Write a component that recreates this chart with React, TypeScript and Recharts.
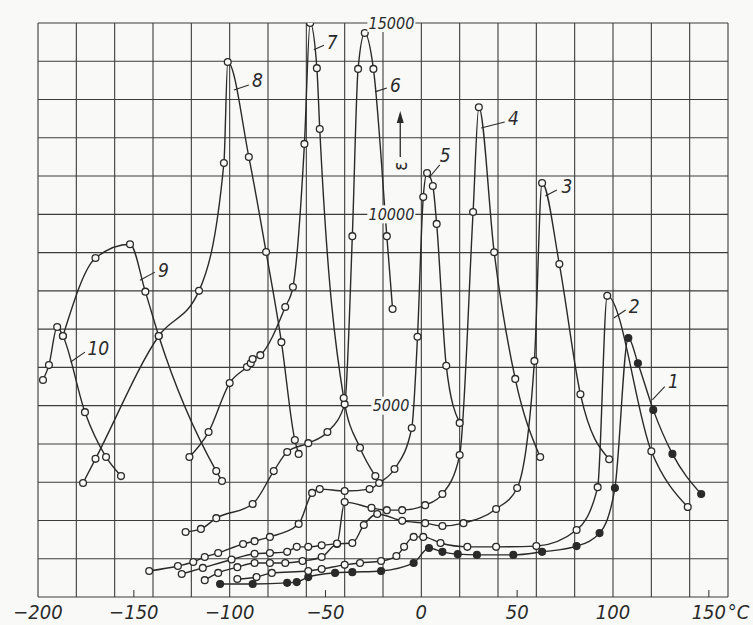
import { LineChart, Line, XAxis, YAxis, ReferenceDot, ReferenceLine } from 'recharts';

// grid: 20 °C per column, 1000 per row
const gridT = [-200, -180, -160, -140, -120, -100, -80, -60, -40, -20, 0, 20, 40, 60, 80, 100, 120, 140, 160];
const gridE = [0, 1000, 2000, 3000, 4000, 5000, 6000, 7000, 8000, 9000, 10000, 11000, 12000, 13000, 14000, 15000];
const tickT = [-200, -150, -100, -50, 0, 50, 100, 150];
const halfTicks = [-150, -50, 50, 150];
const eLabels = [5000, 10000, 15000];

// curve 1 (filled points)
const c1T = [-105, -88, -70, -65, -59, -45, -36, -21, -4, 4, 11, 19, 29, 48, 63, 81, 93, 101, 108, 113, 121, 131, 146];
const c1E = [340, 340, 370, 390, 520, 630, 650, 680, 890, 1280, 1180, 1120, 1100, 1100, 1180, 1330, 1670, 2850, 6770, 6110, 4890, 3740, 2690];

const c2T = [-96, -86, -78, -59, -52, -40, -32, -21, -13, -9, -4, 1, 10, 24, 39, 60, 81, 92, 97, 120, 139];
const c2E = [470, 520, 630, 680, 730, 840, 890, 940, 1070, 1310, 1570, 1570, 1410, 1310, 1310, 1330, 1750, 2870, 7870, 3810, 2350];

const c3T = [-113, -106, -96, -87, -79, -71, -62, -52, -44, -36, -30, -23, -10, 2, 11, 22, 39, 50, 59, 63, 72, 83, 98];
const c3E = [440, 630, 780, 890, 890, 890, 940, 1045, 1385, 1410, 1880, 2170, 1990, 1930, 1855, 1930, 2300, 2850, 6170, 10820, 8700, 5300, 3600];

const c4T = [-125, -114, -99, -87, -79, -70, -65, -59, -52, -44, -40, -26, -18, -10, 2, 11, 20, 27, 30, 38, 49, 62];
const c4E = [600, 760, 980, 1130, 1150, 1180, 1310, 1310, 1350, 1400, 2480, 2330, 2270, 2270, 2400, 2690, 3710, 10060, 12800, 9010, 5700, 3660];

const c5T = [-142, -127, -119, -113, -106, -93, -87, -79, -64, -57, -53, -40, -27, -22, -14, -5, -2, 1, 3, 6, 8, 13, 20];
const c5E = [680, 810, 915, 1045, 1150, 1385, 1460, 1570, 1910, 2720, 2820, 2770, 2820, 2980, 3345, 4416, 6800, 10450, 11080, 10740, 9750, 6040, 4550];

const c6T = [-123, -115, -107, -88, -77, -70, -59, -49, -40, -36, -33, -29.5, -25, -18, -15];
const c6E = [1700, 1780, 2060, 2430, 3290, 3790, 4020, 4310, 5040, 9430, 13800, 14740, 13800, 9430, 7525];

const c7T = [-121, -111, -100, -91, -89, -88, -84, -71, -67, -61, -58, -54.5, -53, -40.5, -32, -24];
const c7E = [3660, 4310, 5590, 6010, 6110, 6220, 6320, 7580, 8100, 11840, 15000, 13820, 12230, 5200, 3900, 3160];

const c8T = [-176.5, -170, -137, -116, -103, -101, -90, -81, -73, -66, -64];
const c8E = [2980, 3610, 6820, 8000, 11340, 13980, 11500, 9015, 6660, 4100, 3740];

const c9T = [-187, -170, -152, -144, -137, -107, -104];
const c9E = [6820, 8860, 9220, 7980, 6820, 3290, 3030];

const c10T = [-197.4, -194.3, -190, -187, -175.5, -164.5, -156.7];
const c10E = [5670, 6060, 7055, 6820, 4830, 3660, 3160];

// curve numbers with their leader lines (text point, leader start, leader end)
const curveLabels = [
  { text: '1', t: 131.5, e: 5650, from: [120.5, 5150], to: [127, 5500] },
  { text: '2', t: 111, e: 7600, from: [100.4, 7290], to: [106.6, 7500] },
  { text: '3', t: 76, e: 10740, from: [64.7, 10480], to: [70.7, 10636] },
  { text: '4', t: 48, e: 12520, from: [31.2, 12255], to: [43.5, 12413] },
  { text: '5', t: 12.5, e: 11550, from: [3.9, 10950], to: [9.6, 11290] },
  { text: '6', t: -13.5, e: 13380, from: [-24.2, 13200], to: [-18, 13300] },
  { text: '7', t: -46.5, e: 14500, from: [-56.1, 14300], to: [-50.8, 14420] },
  { text: '8', t: -85.5, e: 13510, from: [-97.8, 13250], to: [-90, 13380] },
  { text: '9', t: -134.5, e: 8545, from: [-146.8, 8280], to: [-139, 8490] },
  { text: '10', t: -168.5, e: 6500, from: [-183, 6140], to: [-175.5, 6400] },
];

const series = [
  { id: '1', t: c1T, e: c1E, filled: true },
  { id: '2', t: c2T, e: c2E },
  { id: '3', t: c3T, e: c3E },
  { id: '4', t: c4T, e: c4E },
  { id: '5', t: c5T, e: c5E },
  { id: '6', t: c6T, e: c6E },
  { id: '7', t: c7T, e: c7E },
  { id: '8', t: c8T, e: c8E },
  { id: '9', t: c9T, e: c9E },
  { id: '10', t: c10T, e: c10E },
];

const BG = '#f9f9f7';
const INK = '#2a2a2a';
const GRID = '#3c3c3c';
const NUM_FONT = '"DejaVu Sans Condensed", "DejaVu Sans", sans-serif';

const XTick = ({ x, y, payload }: any) => {
  const v = payload.value;
  const txt = v < 0 ? `\u2212${Math.abs(v)}` : `${v}`;
  return (
    <g>
      <text x={x} y={y} dy={14} textAnchor="middle" fontSize={20} fontStyle="italic" fontFamily={NUM_FONT} fill={INK}>
        {txt}
      </text>
      {v === 150 && (
        <text x={x + 19} y={y} dy={14} textAnchor="start" fontSize={20} fontStyle="italic" fontFamily={NUM_FONT} fill={INK}>
          °C
        </text>
      )}
    </g>
  );
};

export default function App() {
  return (
    <div style={{ position: 'absolute', left: 0, top: 0, width: 753, height: 625, background: BG }}>
      <LineChart width={753} height={625} margin={{ top: 23, right: 25, bottom: 0, left: 38 }}>
        <XAxis type="number" dataKey="t" domain={[-200, 160]} ticks={tickT} tick={<XTick />} tickLine={false} axisLine={false} height={28} allowDataOverflow />
        <YAxis type="number" domain={[0, 15000]} ticks={eLabels} tick={false} tickLine={false} axisLine={false} width={0} allowDataOverflow />

        {gridT.map((v) => (
          <ReferenceLine key={`gx${v}`} x={v} stroke={GRID} strokeWidth={1.1} ifOverflow="visible" />
        ))}
        {gridE.map((v) => (
          <ReferenceLine key={`gy${v}`} y={v} stroke={GRID} strokeWidth={1.1} ifOverflow="visible" />
        ))}
        {halfTicks.map((v) => (
          <ReferenceLine key={`h${v}`} segment={[{ x: v, y: 0 }, { x: v, y: 180 }]} stroke={GRID} strokeWidth={1.1} />
        ))}

        {series.map((s) => (
          <Line
            key={s.id}
            data={s.t.map((t, i) => ({ t, e: s.e[i] }))}
            dataKey="e"
            type="monotone"
            stroke={INK}
            strokeWidth={1.4}
            dot={{ r: 3.4, fill: s.filled ? INK : BG, stroke: INK, strokeWidth: 1.3 }}
            activeDot={false}
            isAnimationActive={false}
          />
        ))}

        {curveLabels.map((l) => (
          <ReferenceLine
            key={`l${l.text}`}
            segment={[{ x: l.from[0], y: l.from[1] }, { x: l.to[0], y: l.to[1] }]}
            stroke={INK}
            strokeWidth={1.1}
          />
        ))}
        {curveLabels.map((l) => (
          <ReferenceDot
            key={`t${l.text}`}
            x={l.t}
            y={l.e}
            r={0}
            shape={(p: any) => (
              <text x={p.cx} y={p.cy} textAnchor="middle" dominantBaseline="central" fontSize={19} fontStyle="italic" fontFamily={NUM_FONT} fill={INK}>
                {l.text}
              </text>
            )}
          />
        ))}

        {eLabels.map((v) => (
          <ReferenceDot
            key={`e${v}`}
            x={0}
            y={v}
            r={0}
            shape={(p: any) => (
              <g>
                <rect x={p.cx - (v >= 10000 ? 54 : 50)} y={p.cy - 9} width={v >= 10000 ? 48 : 40} height={18} fill={BG} />
                <text x={p.cx - (v >= 10000 ? 7 : 12)} y={p.cy} textAnchor="end" dominantBaseline="central" fontSize={16} fontStyle="italic" fontFamily={NUM_FONT} fill={INK}>
                  {v}
                </text>
              </g>
            )}
          />
        ))}

        <ReferenceDot
          x={-11}
          y={11260}
          r={0}
          shape={(p: any) => (
            <g>
              <line x1={p.cx} y1={p.cy - 9} x2={p.cx} y2={p.cy - 46} stroke={INK} strokeWidth={1.3} />
              <path d={`M${p.cx - 3.5},${p.cy - 43} L${p.cx},${p.cy - 55} L${p.cx + 3.5},${p.cy - 43} Z`} fill={INK} />
              <text x={p.cx} y={p.cy} textAnchor="middle" dominantBaseline="central" fontSize={19} fontFamily={NUM_FONT} fill={INK} transform={`rotate(-90 ${p.cx} ${p.cy})`}>
                ε
              </text>
            </g>
          )}
        />
      </LineChart>
    </div>
  );
}
